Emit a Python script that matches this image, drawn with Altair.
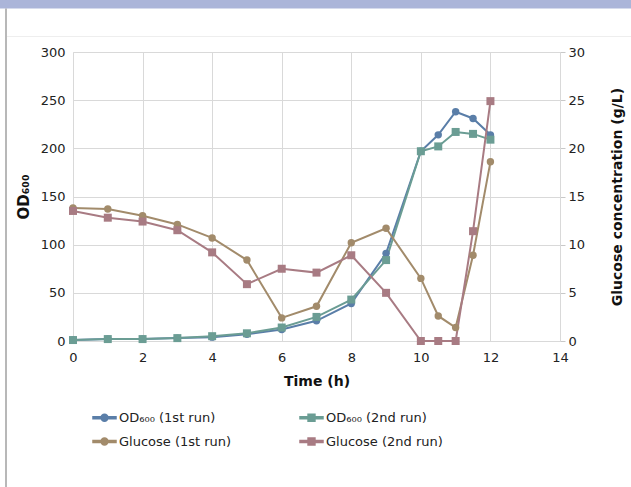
import altair as alt
import pandas as pd

# ---- data ----
time_h = [0, 1, 2, 3, 4, 5, 6, 7, 8, 9, 10, 10.5, 11, 11.5, 12]
od_run1 = [1, 2, 2, 3, 4, 7, 12, 21, 39, 91, 197, 214, 238, 231, 214]
od_run2 = [1, 2, 2, 3, 5, 8, 14, 25, 43, 84, 197, 202, 217, 215, 209]
glc_run1 = [13.8, 13.7, 13.0, 12.1, 10.7, 8.4, 2.4, 3.6, 10.2, 11.7, 6.5, 2.6, 1.4, 8.9, 18.6]
glc_run2 = [13.5, 12.8, 12.4, 11.5, 9.2, 5.9, 7.5, 7.1, 8.9, 5.0, 0, 0, 0, 11.4, 24.9]

series_names = ["OD₆₀₀ (1st run)", "OD₆₀₀ (2nd run)", "Glucose (1st run)", "Glucose (2nd run)"]
series_colors = ["#5a7ea8", "#6b9d94", "#a28b6b", "#a87b83"]

x_ticks = [0, 2, 4, 6, 8, 10, 12, 14]
od_ticks = [0, 50, 100, 150, 200, 250, 300]
glc_ticks = [0, 5, 10, 15, 20, 25, 30]

rows = []
for name, vals in zip(series_names, [od_run1, od_run2, glc_run1, glc_run2]):
    for t, v in zip(time_h, vals):
        rows.append({"time": t, "value": v, "series": name})
df = pd.DataFrame(rows)

FONT = "DejaVu Sans"
GRID = "#d9d9d9"

color_scale = alt.Scale(domain=series_names, range=series_colors)

x_enc = alt.X(
    "time:Q",
    scale=alt.Scale(domain=[0, 14], nice=False),
    axis=alt.Axis(values=x_ticks, title="Time (h)", grid=True, gridColor=GRID,
                  domainColor=GRID, ticks=False, labelPadding=10, titlePadding=10,
                  labelFlush=False, labelFontSize=13, titleFontSize=14),
)

y_left = alt.Y(
    "value:Q",
    scale=alt.Scale(domain=[0, 300], nice=False),
    axis=alt.Axis(orient="left", values=od_ticks, title="OD₆₀₀", grid=True, gridColor=GRID,
                  domainColor=GRID, ticks=False, labelPadding=8, titlePadding=9,
                  labelFlush=False, labelFontSize=13, titleFontSize=15),
)

y_right = alt.Y(
    "value:Q",
    scale=alt.Scale(domain=[0, 30], nice=False),
    axis=alt.Axis(orient="right", values=glc_ticks, title="Glucose concentration (g/L)",
                  grid=False, domainColor=GRID, ticks=True, tickSize=5, tickColor="#c8c8c8",
                  labelPadding=3, labelFlush=False, titleAngle=270, titleX=57, titleY=144.5,
                  titleAlign="center", titleBaseline="middle",
                  labelFontSize=13, titleFontSize=14),
)

color_nolegend = alt.Color("series:N", scale=color_scale, legend=None)


def group(names, y_enc):
    base = alt.Chart(df).transform_filter(alt.FieldOneOfPredicate(field="series", oneOf=names))
    line = base.mark_line(strokeWidth=2).encode(x=x_enc, y=y_enc, color=color_nolegend)
    p1 = (alt.Chart(df).transform_filter(alt.FieldEqualPredicate(field="series", equal=names[0]))
          .mark_point(shape="circle", filled=True, size=55, opacity=1)
          .encode(x=x_enc, y=y_enc, color=color_nolegend))
    p2 = (alt.Chart(df).transform_filter(alt.FieldEqualPredicate(field="series", equal=names[1]))
          .mark_point(shape="square", filled=True, size=64, opacity=1)
          .encode(x=x_enc, y=y_enc, color=color_nolegend))
    return alt.layer(line, p1, p2)


od_group = group(series_names[:2], y_left)
glc_group = group(series_names[2:], y_right)

# legend-only layer (no marks drawn): line + marker symbols
line_circle = "M-1,-0.085L1,-0.085L1,0.085L-1,0.085Z M0.3,0A0.3,0.3,0,1,1,-0.3,0A0.3,0.3,0,1,1,0.3,0Z"
line_square = "M-1,-0.085L1,-0.085L1,0.085L-1,0.085Z M-0.3,-0.3L0.3,-0.3L0.3,0.3L-0.3,0.3Z"
legend_def = alt.Legend(title=None, orient="none", legendX=19, legendY=353, columns=2,
                        direction="horizontal", columnPadding=65, rowPadding=4,
                        symbolSize=529, labelOffset=2,
                        labelFontSize=13, labelFont=FONT, labelColor="#222")
legend_layer = (alt.Chart(df).transform_filter("false")
                .mark_point(filled=True, opacity=1, size=529)
                .encode(color=alt.Color("series:N", scale=color_scale, legend=legend_def),
                        shape=alt.Shape("series:N",
                                        scale=alt.Scale(domain=series_names,
                                                        range=[line_circle, line_square,
                                                               line_circle, line_square]),
                                        legend=legend_def)))

# page frame decorations of the screenshot
one = pd.DataFrame({"d": [0]})
top_bar = alt.Chart(one).mark_rule(color="#abb5d9", strokeWidth=8.5).encode(
    x=alt.value(-73), x2=alt.value(558), y=alt.value(-47.8))
left_line = alt.Chart(one).mark_rule(color="#a0a0a0", strokeWidth=1.5).encode(
    x=alt.value(-67), y=alt.value(-43.5), y2=alt.value(435))
faint_line = alt.Chart(one).mark_rule(color="#eeeeee", strokeWidth=1).encode(
    x=alt.value(-66), x2=alt.value(558), y=alt.value(-15.5))

chart = (
    alt.layer(legend_layer, top_bar, left_line, faint_line, od_group, glc_group)
    .resolve_scale(y="independent")
    .properties(width=487, height=289,
                autosize=alt.AutoSizeParams(type="none"),
                padding={"left": 73, "top": 52, "right": 71, "bottom": 146},
                background="white")
    .configure_view(strokeWidth=0)
    .configure_axis(labelFont=FONT, titleFont=FONT, labelColor="#222", titleColor="#111",
                    titleFontWeight="bold")
)

chart.save("out.html", embed_options={"renderer": "svg", "actions": False})
